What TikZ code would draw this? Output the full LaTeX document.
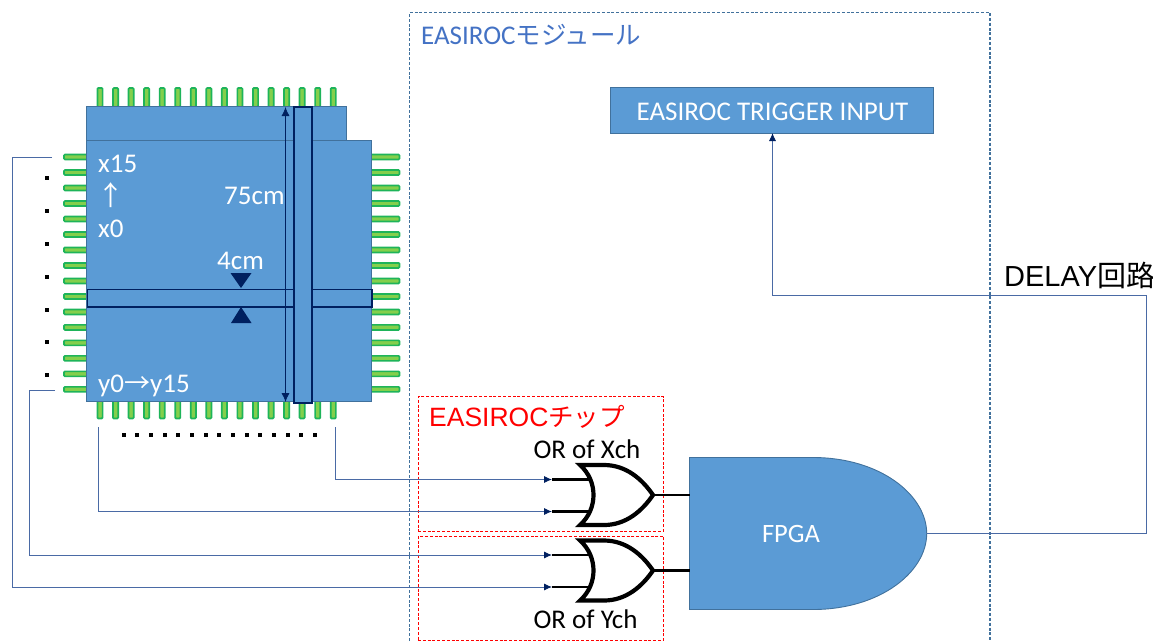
\documentclass[tikz,border=0pt]{standalone}
\usepackage{fontspec}
\setmainfont{Carlito}
\newfontfamily\cjkf{Noto Sans CJK JP}
\newfontfamily\arialf{Liberation Sans}
\usetikzlibrary{arrows.meta,calc}
\definecolor{panelblue}{HTML}{5B9BD5}
\definecolor{paneledge}{HTML}{41719C}
\definecolor{navy}{HTML}{002060}
\definecolor{wire}{HTML}{4A6AA5}
\definecolor{pinfill}{HTML}{84CF4C}
\definecolor{pinedge}{HTML}{1EB45A}
\definecolor{titleblue}{HTML}{4472C4}
\tikzset{
  panel/.style={draw=paneledge,fill=panelblue,line width=1.2pt,anchor=north west,inner sep=0pt},
  strip/.style={draw=navy,fill=panelblue,line width=1.5pt,anchor=north west,inner sep=0pt},
  pinbar/.style={draw=pinedge,fill=pinfill,line width=1.7pt,rounded corners=1pt},
  wireline/.style={draw=wire,line width=.8pt},
  wirearrow/.style={wireline,-{Latex[length=8pt,width=7pt,color=navy]}},
  lead/.style={draw=black,line width=2.5pt},
  gatebody/.style={draw=black,fill=white,line width=4.2pt,miter limit=10},
  lbl/.style={inner sep=0pt,text=white,font=\fontsize{27}{27}\selectfont},
  blk/.style={inner sep=0pt,text=black,font=\fontsize{27}{27}\selectfont},
  tinydot/.style={fill=black,minimum size=4pt,inner sep=0pt,shape=rectangle},
  redbox/.style={draw=red,dash pattern=on 3pt off 1.8pt,line width=1.1pt,anchor=north west,inner sep=0pt},
}
\begin{document}
\begin{tikzpicture}[x=1pt,y=-1pt]
\useasboundingbox (0,0) rectangle (1153,641);
% pins
\foreach \i in {0,...,15}{
  \pgfmathsetmacro{\px}{100+15.55*\i}
  \pgfmathsetmacro{\py}{157+15.49*\i}
  \filldraw[pinbar] (\px-2.6,88) rectangle (\px+2.6,107);
  \filldraw[pinbar] (\px-2.6,400) rectangle (\px+2.6,418.5);
  \filldraw[pinbar] (64,\py-2.5) rectangle (88,\py+2.5);
  \filldraw[pinbar] (370,\py-2.5) rectangle (399.5,\py+2.5);
}
% panels
\node[panel,minimum width=260pt,minimum height=295pt] (back) at (86,106) {};
\node[panel,minimum width=285pt,minimum height=261pt] (front) at (86,140) {};
\node[strip,minimum width=284.5pt,minimum height=17.5pt] (hstrip) at (86.5,288.5) {};
\node[strip,minimum width=18pt,minimum height=296pt] (vstrip) at (293,106) {};
% dimension
\coordinate (dimtop) at (285.5,107);
\coordinate (dimbot) at (285.5,402);
\draw[draw=navy,line width=.8pt,{Latex[length=9pt,width=8pt]}-{Latex[length=9pt,width=8pt]}] (dimtop) -- (dimbot);
\fill[navy] (230.5,273) -- (251.5,273) -- (241,288) -- cycle;
\fill[navy] (231,323) -- (251.5,323) -- (241,307) -- cycle;
% panel labels
\node[lbl,anchor=west] (xa) at (98,164) {x15};
\node[lbl,anchor=center] (xb) at (110.5,195) {\cjkf\fontsize{27}{27}\selectfont ↑};
\node[lbl,anchor=west] (xc) at (98,229) {x0};
\node[lbl,anchor=west] (len) at (224,196) {75cm};
\node[lbl,anchor=west] (wid) at (217,261) {4cm};
\node[lbl,anchor=west] (ya) at (98,386) {y0{\cjkf\fontsize{26}{26}\selectfont →}y15};
% dots
\foreach \y in {178,211,244,277,310,342,375}{\node[tinydot] at (47,\y) {};}
\foreach \i in {0,...,14}{\node[tinydot] at (123.7+13.67*\i,435) {};}
% module
\draw[draw=paneledge,dash pattern=on 3pt off 1.8pt,line width=1.1pt] (409.5,641) -- (409.5,12.5) -- (990,12.5) -- (990,641);
\node[inner sep=0pt,anchor=west,text=titleblue,font=\fontsize{27}{27}\selectfont] (modtitle) at (421,35) {EASIROC{\cjkf\fontsize{25.5}{25.5}\selectfont モジュール}};
\node[panel,minimum width=323pt,minimum height=46pt] (trig) at (610,87) {};
\node[lbl] (trigtext) at (772.5,112) {EASIROC TRIGGER INPUT};
% chips
\node[redbox,minimum width=245.5pt,minimum height=134.5pt] (chipx) at (417.5,396) {};
\node[redbox,minimum width=245.5pt,minimum height=104.5pt] (chipy) at (417.5,535.5) {};
\node[inner sep=0pt,anchor=west,text=red,font=\arialf\fontsize{26.5}{26.5}\selectfont] (chiptitle) at (429,417) {EASIROC{\cjkf\fontsize{25.5}{25.5}\selectfont チップ}};
\node[blk] (orx) at (587,449) {OR of Xch};
\node[blk] (ory) at (585.5,619) {OR of Ych};
% FPGA
\draw[draw=paneledge,fill=panelblue,line width=.9pt] (689.5,457.5) -- (813,457.5) .. controls (880,457.5) and (926.7,495) .. (926.7,533.5) .. controls (926.7,572) and (880,609.5) .. (813,609.5) -- (689.5,609.5) -- cycle;
\coordinate (fpgaout) at (926.7,533.5);
\coordinate (fpgainx) at (689.5,495);
\coordinate (fpgainy) at (689.5,570.5);
\node[lbl,font=\fontsize{26.5}{26.5}\selectfont] (fpgatext) at (791,534) {FPGA};
% gates
\foreach \gy/\gn in {465/gx,540.5/gy}{
  \coordinate (\gn a) at (552,\gy+14.5);
  \coordinate (\gn b) at (552,\gy+46.5);
  \coordinate (\gn o) at (654,\gy+30);
  \draw[lead] (\gn a) -- (590,\gy+14.5);
  \draw[lead] (\gn b) -- (590,\gy+46.5);
  \draw[gatebody] (580,\gy) -- (604,\gy) .. controls (626,\gy) and (642,\gy+14) .. (653,\gy+30)
     .. controls (642,\gy+46) and (626,\gy+60) .. (604,\gy+60) -- (580,\gy+60)
     .. controls (598,\gy+44) and (598,\gy+16) .. (580,\gy) -- cycle;
}
\draw[lead] (gxo) -- (fpgainx);
\draw[lead] (gyo) -- (fpgainy);
% wires
\coordinate (w1s) at (52,157);
\coordinate (w2s) at (55,390);
\coordinate (w3s) at (98.5,427);
\coordinate (w4s) at (335.5,427);
\coordinate (trigin) at (772.5,133);
\draw[wirearrow] (w1s) -| (12,587) -- (gxa |- gyb);
\draw[wirearrow] (w2s) -| (29,555) -- (gxa |- gya);
\draw[wirearrow] (w3s) |- (gxb);
\draw[wirearrow] (w4s) |- (gxa);
\draw[wirearrow] (fpgaout) -- (1146,533.5) -- (1146,295) -- (772.5,295) -- (trigin);
\node[inner sep=0pt,anchor=west,text=black,font=\arialf\fontsize{29}{29}\selectfont] (delay) at (1004,275) {DELAY{\cjkf\fontsize{29}{29}\selectfont 回路}};
\end{tikzpicture}
\end{document}
